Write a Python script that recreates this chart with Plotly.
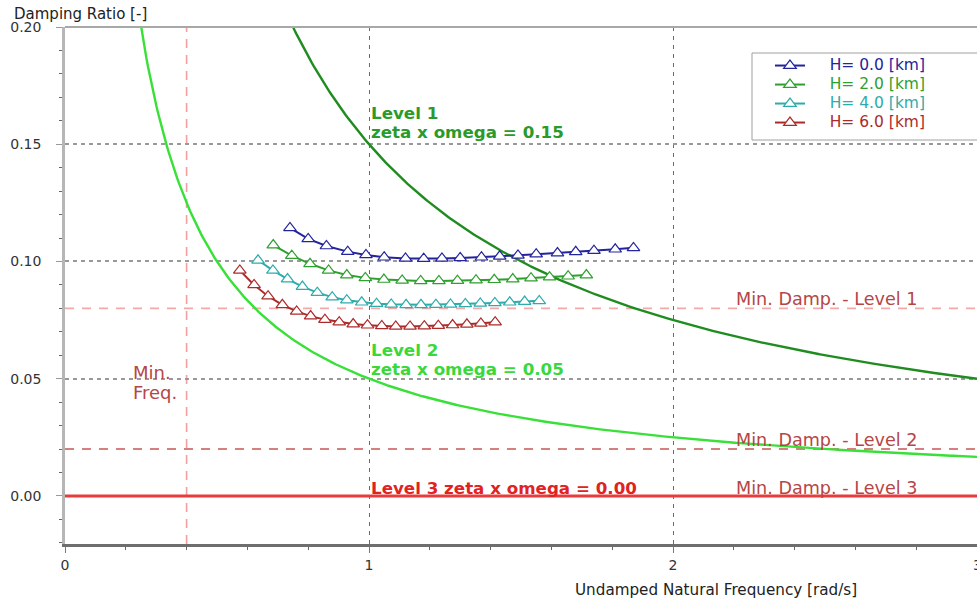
import numpy as np
import plotly.graph_objects as go

# ---- altitude sweeps: undamped natural frequency [rad/s] vs damping ratio [-] ----
h0_freq = [0.74, 0.80, 0.86, 0.93, 0.99, 1.05, 1.12, 1.18, 1.24, 1.30,
           1.37, 1.43, 1.49, 1.55, 1.62, 1.68, 1.74, 1.81, 1.87]
h0_zeta = [0.1143, 0.1096, 0.1066, 0.1042, 0.1028, 0.1018, 0.1013, 0.1012, 0.1013, 0.1015,
           0.1018, 0.1022, 0.1026, 0.1031, 0.1036, 0.1041, 0.1046, 0.1052, 0.1058]

h2_freq = [0.685, 0.746, 0.806, 0.867, 0.927, 0.988, 1.049, 1.109, 1.170, 1.230,
           1.291, 1.352, 1.412, 1.473, 1.533, 1.594, 1.655, 1.715]
h2_zeta = [0.1070, 0.1025, 0.0990, 0.0962, 0.0942, 0.0930, 0.0923, 0.0919, 0.0917, 0.0917,
           0.0918, 0.0920, 0.0922, 0.0925, 0.0929, 0.0933, 0.0937, 0.0942]

h4_freq = [0.635, 0.684, 0.732, 0.781, 0.830, 0.879, 0.927, 0.976, 1.025, 1.073,
           1.122, 1.171, 1.220, 1.268, 1.317, 1.366, 1.414, 1.463, 1.512, 1.560]
h4_zeta = [0.1005, 0.0962, 0.0925, 0.0893, 0.0867, 0.0848, 0.0835, 0.0826, 0.0820, 0.0817,
           0.0815, 0.0815, 0.0816, 0.0817, 0.0819, 0.0821, 0.0823, 0.0826, 0.0829, 0.0832]

h6_freq = [0.575, 0.622, 0.668, 0.715, 0.762, 0.808, 0.855, 0.902, 0.948, 0.995,
           1.042, 1.088, 1.135, 1.182, 1.228, 1.275, 1.322, 1.368, 1.415]
h6_zeta = [0.0962, 0.0900, 0.0852, 0.0815, 0.0787, 0.0767, 0.0752, 0.0741, 0.0733, 0.0728,
           0.0725, 0.0723, 0.0723, 0.0724, 0.0726, 0.0729, 0.0732, 0.0736, 0.0741]

series_names = ["H= 0.0 [km]", "H= 2.0 [km]", "H= 4.0 [km]", "H= 6.0 [km]"]
series_colors = ["#24249c", "#2f9f2f", "#2eabab", "#ab2b2b"]
series_freq = [h0_freq, h2_freq, h4_freq, h6_freq]
series_zeta = [h0_zeta, h2_zeta, h4_zeta, h6_zeta]

# ---- handling-quality boundaries ----
LEVEL1_ZW = 0.15          # zeta * omega, level 1
LEVEL2_ZW = 0.05          # zeta * omega, level 2
LEVEL3_ZW = 0.00          # zeta * omega, level 3
MIN_DAMP_L1 = 0.08
MIN_DAMP_L2 = 0.02
MIN_DAMP_L3 = 0.00
MIN_FREQ = 0.4

x_ticks = [0, 1, 2, 3]
y_ticks = [0.00, 0.05, 0.10, 0.15, 0.20]
X_RANGE = [0, 3]
Y_RANGE = [-0.0205, 0.20]

FONT = "DejaVu Sans"
DAMP_TXT = "#b54646"

fig = go.Figure()

# constant zeta*omega curves
omega = np.linspace(0.2, 3.0, 500)
fig.add_trace(go.Scatter(x=omega, y=LEVEL1_ZW / omega, mode="lines",
                         line=dict(color="#1f8c1f", width=2.4),
                         showlegend=False, hoverinfo="skip"))
fig.add_trace(go.Scatter(x=omega, y=LEVEL2_ZW / omega, mode="lines",
                         line=dict(color="#38e038", width=2.4),
                         showlegend=False, hoverinfo="skip"))
fig.add_trace(go.Scatter(x=X_RANGE, y=[LEVEL3_ZW, LEVEL3_ZW], mode="lines",
                         line=dict(color="#e83c3c", width=3),
                         showlegend=False, hoverinfo="skip"))

# altitude sweeps
PAD = "&nbsp;" * 4
for name, col, fx, zy in zip(series_names, series_colors, series_freq, series_zeta):
    fig.add_trace(go.Scatter(
        x=fx, y=zy, mode="lines+markers",
        name=f'<span style="color:{col};font-size:15.5px">{PAD}{name}</span>',
        line=dict(color=col, width=2),
        marker=dict(symbol="triangle-up", size=11, color="white",
                    line=dict(color=col, width=1.2)),
    ))

shapes = [
    # minimum damping limits
    dict(type="line", xref="x", yref="y", x0=X_RANGE[0], x1=X_RANGE[1],
         y0=MIN_DAMP_L1, y1=MIN_DAMP_L1, layer="below",
         line=dict(color="#f4a9a9", width=1.6, dash="9px,8px")),
    dict(type="line", xref="x", yref="y", x0=X_RANGE[0], x1=X_RANGE[1],
         y0=MIN_DAMP_L2, y1=MIN_DAMP_L2, layer="below",
         line=dict(color="#c95555", width=1.6, dash="9px,8px")),
    # minimum frequency limit
    dict(type="line", xref="x", yref="paper", x0=MIN_FREQ, x1=MIN_FREQ,
         y0=0, y1=1, layer="below",
         line=dict(color="#f0a0a0", width=1.6, dash="9px,7px")),
    # top border
    dict(type="line", xref="paper", yref="paper", x0=0, x1=1, y0=1, y1=1,
         line=dict(color="#a8a8a8", width=2)),
    # legend frame
    dict(type="rect", xref="paper", yref="paper", x0=0.7533, x1=1.01,
         y0=0.7814, y1=0.9497, layer="above",
         fillcolor="white", line=dict(color="#a0a0a0", width=1)),
]

def txt(x, y, s, size, color, bold=False, xref="x", yref="y", xanchor="left"):
    return dict(x=x, y=y, xref=xref, yref=yref, text=f"<b>{s}</b>" if bold else s,
                showarrow=False, xanchor=xanchor, yanchor="middle",
                font=dict(family=FONT, size=size, color=color))

annotations = [
    txt(1.0, 0.1633, "Level 1", 16.7, "#2a9a2a", bold=True),
    txt(1.0, 0.1552, "zeta x omega = 0.15", 16.7, "#2a9a2a", bold=True),
    txt(1.0, 0.0623, "Level 2", 16.7, "#3ad83a", bold=True),
    txt(1.0, 0.0542, "zeta x omega = 0.05", 16.7, "#3ad83a", bold=True),
    txt(1.0, 0.0034, "Level 3 zeta x omega = 0.00", 16.7, "#e02222", bold=True),
    txt(2.2, 0.0840, "Min. Damp. - Level 1", 17.6, DAMP_TXT),
    txt(2.2, 0.0239, "Min. Damp. - Level 2", 17.6, DAMP_TXT),
    txt(2.2, 0.0034, "Min. Damp. - Level 3", 17.6, DAMP_TXT),
    txt(0.218, 0.0525, "Min.", 18, DAMP_TXT),
    txt(0.218, 0.0443, "Freq.", 18, DAMP_TXT),
    txt(-0.0581, 1.025, "Damping Ratio [-]", 15, "#222", xref="paper", yref="paper"),
    txt(0.557, -0.089, "Undamped Natural Frequency [rad/s]", 15.2, "#222",
        xref="paper", yref="paper"),
    # last x tick label sits on the right edge of the frame
    txt(1.0, -0.0406, str(x_ticks[-1]), 14, "#333", xref="paper", yref="paper",
        xanchor="center"),
]

fig.update_layout(
    width=977, height=601,
    margin=dict(l=65, r=0, t=27, b=57),
    paper_bgcolor="white", plot_bgcolor="white",
    font=dict(family=FONT, size=14, color="#333"),
    shapes=shapes, annotations=annotations,
    showlegend=True,
    legend=dict(x=0.773, y=0.9535, xanchor="left", yanchor="top",
                bgcolor="rgba(0,0,0,0)", borderwidth=0,
                font=dict(family=FONT, size=12), itemwidth=30, tracegroupgap=0),
    xaxis=dict(range=X_RANGE, tickvals=x_ticks, ticktext=[str(v) for v in x_ticks],
               showgrid=True, gridcolor="#6a6a6a", gridwidth=1, griddash="4px,5px",
               zeroline=False, showline=True, linecolor="#6e6e6e", linewidth=2.5,
               ticks="outside", ticklen=6, tickcolor="#777",
               tickfont=dict(family=FONT, size=14, color="#333"),
               minor=dict(dtick=0.2, ticks="outside", ticklen=3, tickcolor="#666",
                          showgrid=False)),
    yaxis=dict(range=Y_RANGE, tickvals=y_ticks, ticktext=[f"{v:.2f}" for v in y_ticks],
               showgrid=True, gridcolor="#999999", gridwidth=1.5, griddash="4px,4px",
               zeroline=False, showline=True, linecolor="#b6b6b6", linewidth=2.5,
               ticks="outside", ticklen=6, tickcolor="#999",
               ticklabelstandoff=12,
               tickfont=dict(family=FONT, size=14, color="#333"),
               minor=dict(dtick=0.01, ticks="outside", ticklen=3, tickcolor="#666",
                          showgrid=False)),
)

fig.write_html("out.html")
